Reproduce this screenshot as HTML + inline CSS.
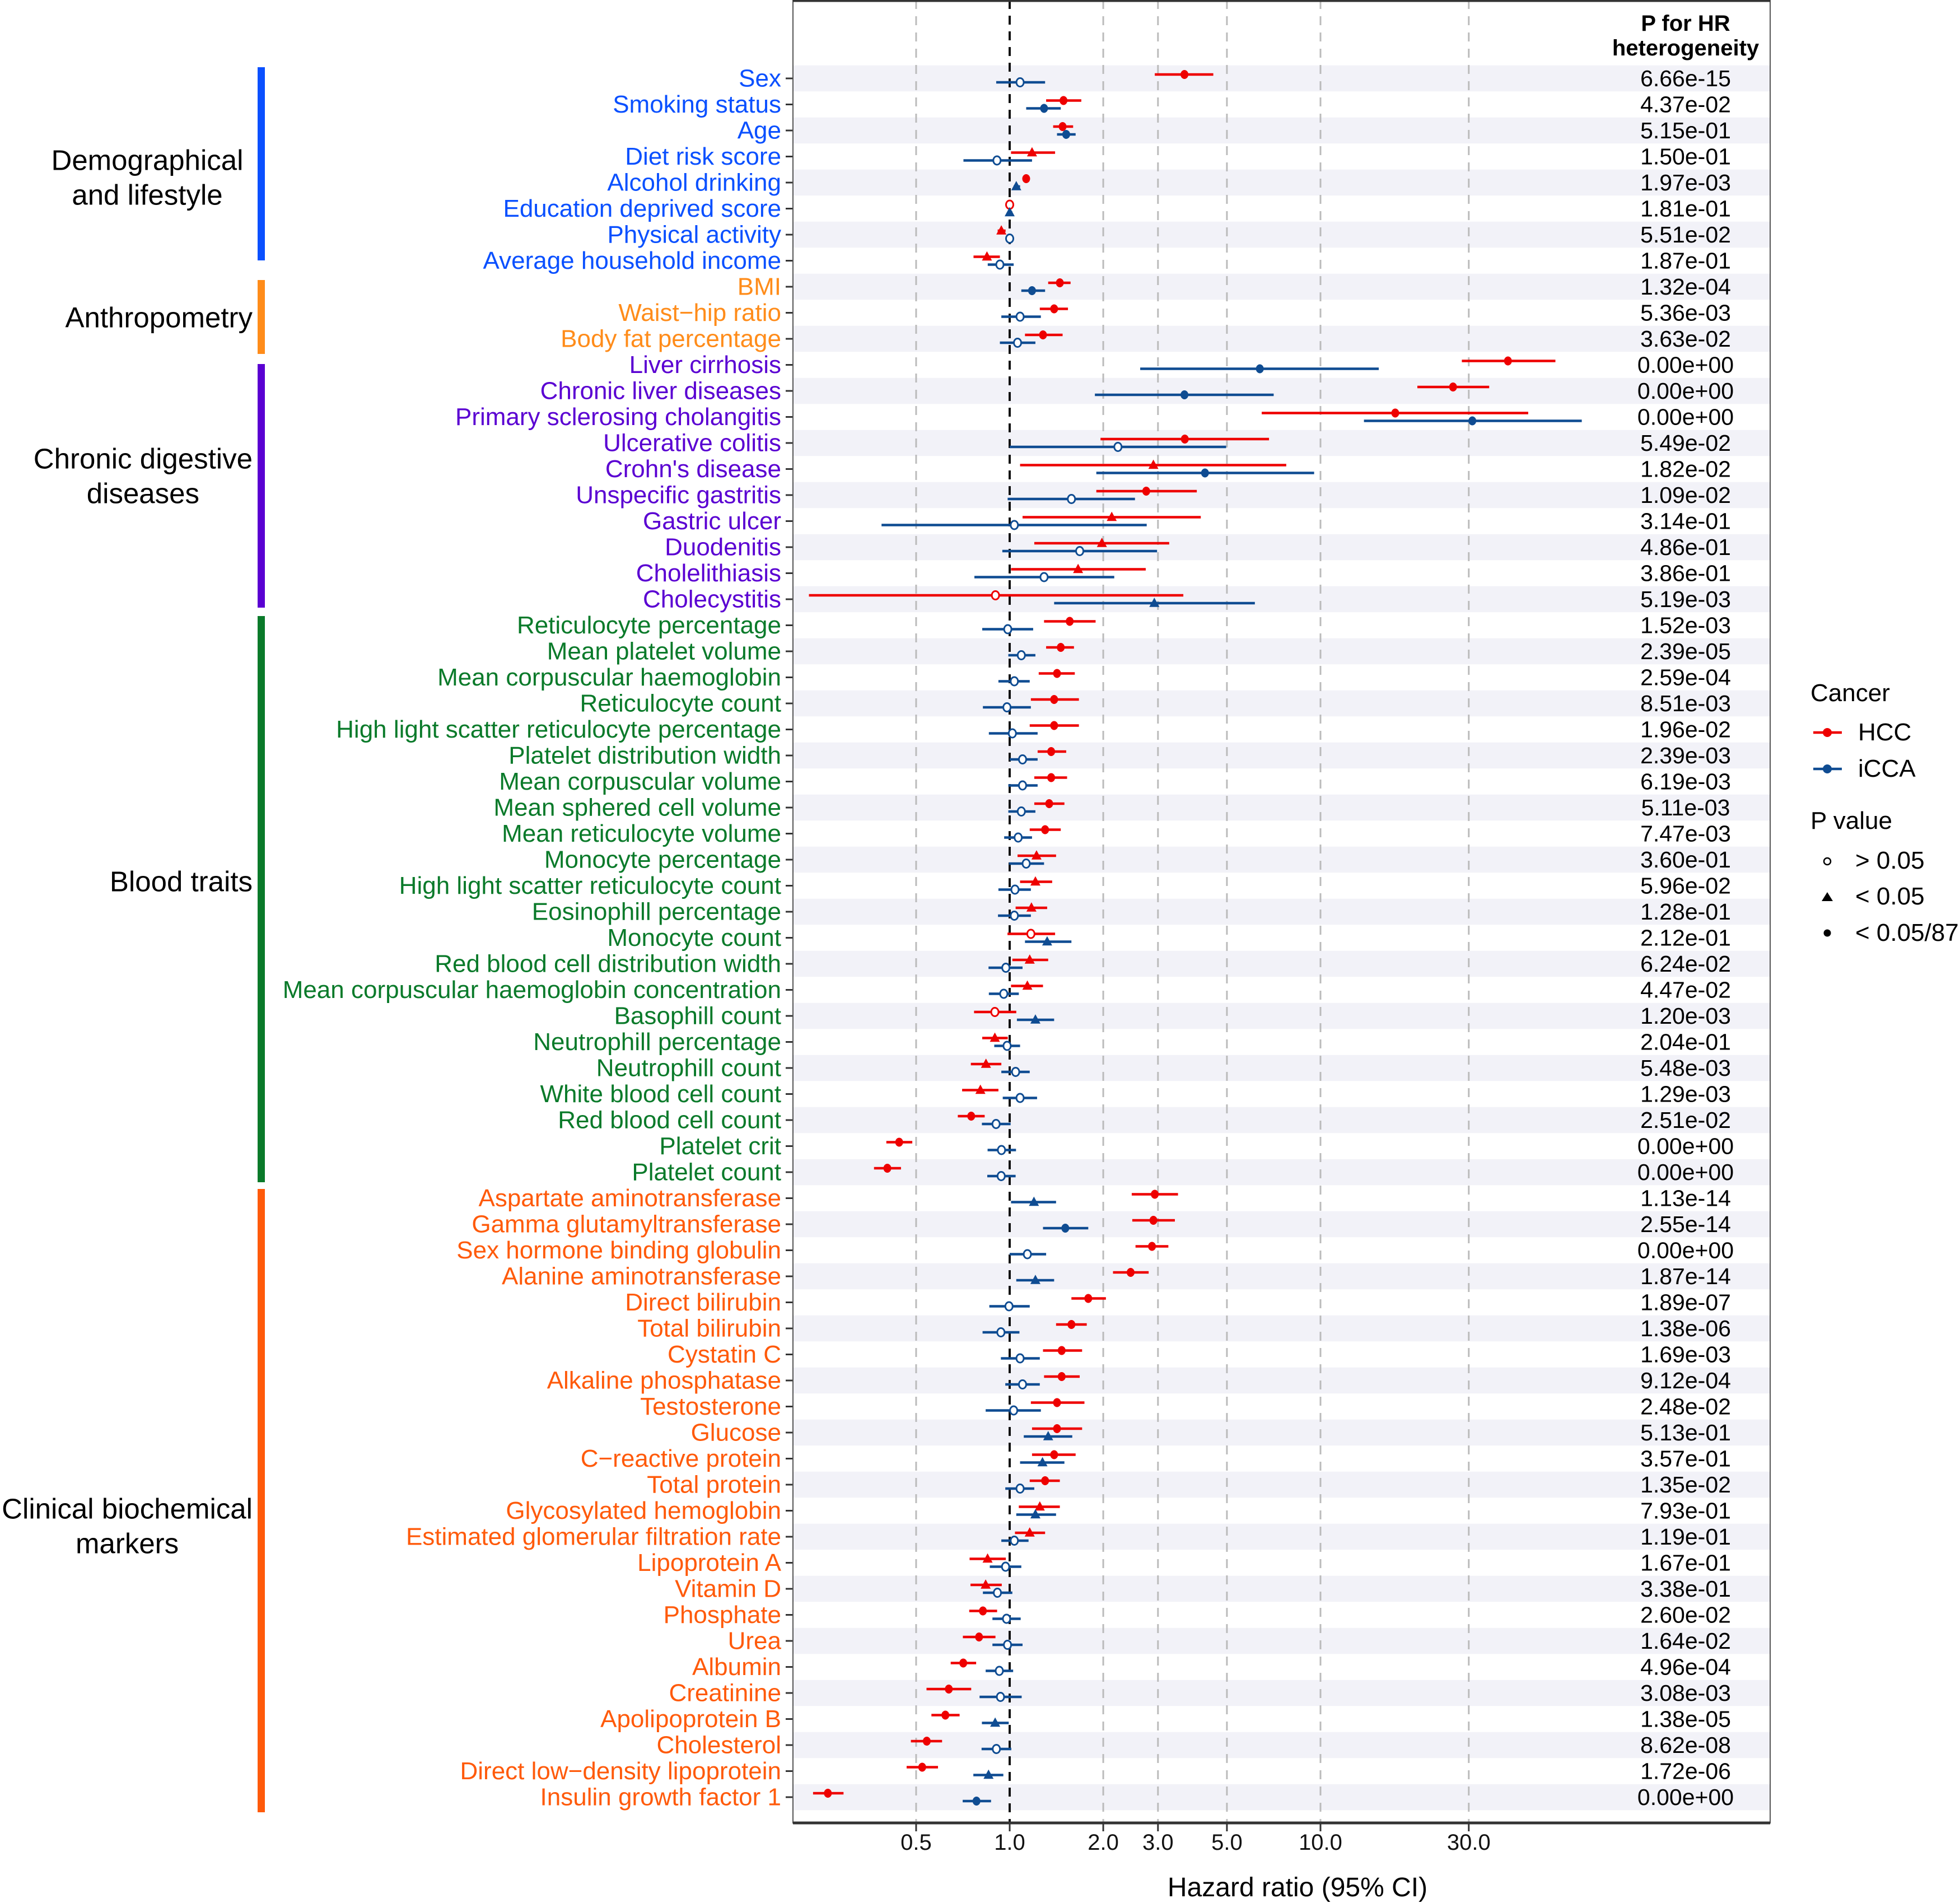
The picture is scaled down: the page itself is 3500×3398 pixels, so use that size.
<!DOCTYPE html>
<html><head><meta charset="utf-8"><style>
html,body{margin:0;padding:0;background:#fff;}
svg{display:block;font-family:"Liberation Sans",Arial,sans-serif;}
</style></head><body>
<svg id="chart" width="3500" height="3398" viewBox="0 0 3500 3398" xmlns="http://www.w3.org/2000/svg">
<g id="bands"></g><g id="grid"></g><g id="marks"></g><g id="labels"></g><g id="groups"></g><g id="axis"></g><g id="legend"></g>
</svg>
<script>
const labels=["Sex","Smoking status","Age","Diet risk score","Alcohol drinking","Education deprived score","Physical activity","Average household income","BMI","Waist\u2212hip ratio","Body fat percentage","Liver cirrhosis","Chronic liver diseases","Primary sclerosing cholangitis","Ulcerative colitis","Crohn's disease","Unspecific gastritis","Gastric ulcer","Duodenitis","Cholelithiasis","Cholecystitis","Reticulocyte percentage","Mean platelet volume","Mean corpuscular haemoglobin","Reticulocyte count","High light scatter reticulocyte percentage","Platelet distribution width","Mean corpuscular volume","Mean sphered cell volume","Mean reticulocyte volume","Monocyte percentage","High light scatter reticulocyte count","Eosinophill percentage","Monocyte count","Red blood cell distribution width","Mean corpuscular haemoglobin concentration","Basophill count","Neutrophill percentage","Neutrophill count","White blood cell count","Red blood cell count","Platelet crit","Platelet count","Aspartate aminotransferase","Gamma glutamyltransferase","Sex hormone binding globulin","Alanine aminotransferase","Direct bilirubin","Total bilirubin","Cystatin C","Alkaline phosphatase","Testosterone","Glucose","C\u2212reactive protein","Total protein","Glycosylated hemoglobin","Estimated glomerular filtration rate","Lipoprotein A","Vitamin D","Phosphate","Urea","Albumin","Creatinine","Apolipoprotein B","Cholesterol","Direct low\u2212density lipoprotein","Insulin growth factor 1"];
const groupIndex=[0,0,0,0,0,0,0,0,1,1,1,2,2,2,2,2,2,2,2,2,2,3,3,3,3,3,3,3,3,3,3,3,3,3,3,3,3,3,3,3,3,3,3,4,4,4,4,4,4,4,4,4,4,4,4,4,4,4,4,4,4,4,4,4,4,4,4];
const groupNames=[["Demographical","and lifestyle"],["Anthropometry"],["Chronic digestive","diseases"],["Blood traits"],["Clinical biochemical","markers"]];
const hccEst=[3.65,1.49,1.48,1.18,1.13,1.0,0.94,0.845,1.45,1.39,1.28,40.1,26.7,17.4,3.66,2.9,2.75,2.13,1.98,1.66,0.90,1.56,1.46,1.42,1.39,1.39,1.36,1.36,1.34,1.30,1.22,1.21,1.175,1.17,1.16,1.14,0.896,0.896,0.839,0.805,0.752,0.441,0.404,2.93,2.90,2.87,2.45,1.79,1.58,1.47,1.47,1.42,1.42,1.39,1.30,1.25,1.16,0.849,0.837,0.82,0.797,0.709,0.637,0.621,0.541,0.523,0.26];
const hccLo=[2.93,1.31,1.38,1.01,1.11,0.99,0.915,0.765,1.33,1.25,1.12,28.5,20.5,6.47,1.96,1.08,1.9,1.1,1.2,1.01,0.226,1.29,1.31,1.24,1.17,1.16,1.23,1.2,1.2,1.16,1.06,1.08,1.045,0.984,1.02,1.01,0.768,0.816,0.75,0.703,0.681,0.401,0.366,2.47,2.48,2.54,2.15,1.58,1.41,1.28,1.29,1.17,1.18,1.18,1.16,1.07,1.04,0.743,0.748,0.741,0.707,0.646,0.54,0.56,0.481,0.466,0.233];
const hccHi=[4.52,1.70,1.60,1.40,1.15,1.01,0.97,0.93,1.57,1.54,1.48,57,34.9,46.6,6.83,7.76,4.0,4.12,3.26,2.74,3.62,1.89,1.61,1.62,1.67,1.67,1.52,1.53,1.50,1.46,1.41,1.37,1.32,1.40,1.33,1.28,1.05,0.986,0.94,0.92,0.831,0.486,0.447,3.48,3.40,3.24,2.80,2.04,1.77,1.71,1.68,1.74,1.71,1.63,1.45,1.45,1.30,0.972,0.943,0.911,0.90,0.78,0.752,0.69,0.606,0.588,0.292];
const hccSig=[2,2,2,1,2,0,1,1,2,2,2,2,2,2,2,1,2,1,1,1,0,2,2,2,2,2,2,2,2,2,1,1,1,0,1,1,0,1,1,1,2,2,2,2,2,2,2,2,2,2,2,2,2,2,2,1,1,1,1,2,2,2,2,2,2,2,2];
const iccaEst=[1.08,1.29,1.52,0.91,1.05,1.0,1.0,0.93,1.18,1.08,1.06,6.38,3.65,30.8,2.23,4.25,1.58,1.035,1.68,1.29,2.92,0.986,1.09,1.035,0.98,1.02,1.10,1.10,1.09,1.065,1.13,1.04,1.035,1.32,0.972,0.957,1.21,0.981,1.045,1.08,0.904,0.941,0.939,1.197,1.51,1.14,1.21,0.995,0.937,1.08,1.10,1.03,1.33,1.275,1.08,1.21,1.035,0.97,0.913,0.977,0.984,0.926,0.934,0.898,0.906,0.855,0.782];
const iccaLo=[0.905,1.13,1.42,0.71,1.03,0.985,0.985,0.85,1.09,0.94,0.93,2.63,1.88,13.8,1.0,1.9,0.985,0.387,0.947,0.77,1.39,0.816,0.99,0.92,0.82,0.857,1.0,0.99,0.99,0.96,0.995,0.92,0.917,1.12,0.855,0.857,1.055,0.892,0.94,0.95,0.814,0.849,0.847,1.01,1.28,1.0,1.05,0.86,0.818,0.937,0.968,0.837,1.11,1.08,0.968,1.05,0.94,0.863,0.82,0.88,0.88,0.837,0.8,0.814,0.812,0.764,0.706];
const iccaHi=[1.30,1.46,1.63,1.18,1.08,1.02,1.015,1.03,1.30,1.26,1.21,15.4,7.07,69.3,4.97,9.54,2.53,2.76,2.98,2.17,6.15,1.19,1.21,1.16,1.17,1.23,1.23,1.23,1.21,1.18,1.29,1.17,1.17,1.58,1.10,1.07,1.39,1.08,1.16,1.225,1.007,1.048,1.045,1.41,1.79,1.31,1.39,1.16,1.075,1.25,1.25,1.26,1.59,1.50,1.2,1.41,1.15,1.09,1.02,1.085,1.10,1.026,1.093,0.993,1.012,0.954,0.871];
const iccaSig=[0,2,2,0,1,1,0,0,2,0,0,2,2,2,0,2,0,0,0,0,1,0,0,0,0,0,0,0,0,0,0,0,0,1,0,0,1,0,0,0,0,0,0,1,2,0,1,0,0,0,0,0,1,1,0,1,0,0,0,0,0,0,0,1,0,1,2];
const pHet=["6.66e-15","4.37e-02","5.15e-01","1.50e-01","1.97e-03","1.81e-01","5.51e-02","1.87e-01","1.32e-04","5.36e-03","3.63e-02","0.00e+00","0.00e+00","0.00e+00","5.49e-02","1.82e-02","1.09e-02","3.14e-01","4.86e-01","3.86e-01","5.19e-03","1.52e-03","2.39e-05","2.59e-04","8.51e-03","1.96e-02","2.39e-03","6.19e-03","5.11e-03","7.47e-03","3.60e-01","5.96e-02","1.28e-01","2.12e-01","6.24e-02","4.47e-02","1.20e-03","2.04e-01","5.48e-03","1.29e-03","2.51e-02","0.00e+00","0.00e+00","1.13e-14","2.55e-14","0.00e+00","1.87e-14","1.89e-07","1.38e-06","1.69e-03","9.12e-04","2.48e-02","5.13e-01","3.57e-01","1.35e-02","7.93e-01","1.19e-01","1.67e-01","3.38e-01","2.60e-02","1.64e-02","4.96e-04","3.08e-03","1.38e-05","8.62e-08","1.72e-06","0.00e+00"];
const xTicks=[0.5,1,2,3,5,10,30];
const xTickLabels=["0.5","1.0","2.0","3.0","5.0","10.0","30.0"];

const NS="http://www.w3.org/2000/svg";
const PL=1416,PR=3161,PT=0,PB=3255;
const groupColors=["#0A50FF","#FF8C1A","#5A00D2","#0A7A2A","#FF5A0A"];
const groupBars=[[120,465],[500,632],[650,1085],[1100,2111],[2123,3236]];
const groupLabelPos=[[263,317],[0,567],[0,850],[0,1574],[0,2725]];
const HCC="#EE0000",ICCA="#0F4C92";
function xs(v){return 1803+555*Math.log10(v);}
function ys(i){return 140+i*46.5;}
function mk(tag,attrs,parent){const e=document.createElementNS(NS,tag);for(const k in attrs)e.setAttribute(k,attrs[k]);parent.appendChild(e);return e;}
const gB=document.getElementById('bands'),gG=document.getElementById('grid'),gM=document.getElementById('marks'),gL=document.getElementById('labels'),gGr=document.getElementById('groups'),gA=document.getElementById('axis'),gLe=document.getElementById('legend');

labels.forEach((l,i)=>{
  if(i%2===0){const r=mk('rect',{x:PL,y:ys(i)-23.25,width:PR-PL,height:46.5,fill:'#F2F2F8'},gB);
    
    }
});
xTicks.forEach(t=>{
  const ln=mk('line',{x1:xs(t),x2:xs(t),y1:PT,y2:PB,stroke:t===1?'#111':'#BBBBBB','stroke-width':t===1?4:3,'stroke-dasharray':t===1?'16,12':'16,13'},gG);
  
  
});
function marker(x,y,sig,col,parent,scale){
  scale=scale||1;let e;
  if(sig===0){e=mk('ellipse',{cx:x,cy:y,rx:6.5*scale,ry:7.5*scale,fill:'#fff',stroke:col,'stroke-width':3},parent);}
  else if(sig===1){const s=9*scale;e=mk('polygon',{points:`${x},${y-s*1.1} ${x-s},${y+s*0.75} ${x+s},${y+s*0.75}`,fill:col},parent);}
  else{e=mk('ellipse',{cx:x,cy:y,rx:7*scale,ry:8*scale,fill:col},parent);}
  return e;
}
labels.forEach((l,i)=>{
  const y=ys(i);
  const hl=mk('line',{x1:xs(hccLo[i]),x2:xs(hccHi[i]),y1:y-7,y2:y-7,stroke:HCC,'stroke-width':4.5},gM);
  
  
  const hm=marker(xs(hccEst[i]),y-7,hccSig[i],HCC,gM);
  
  
  const il=mk('line',{x1:xs(iccaLo[i]),x2:xs(iccaHi[i]),y1:y+7,y2:y+7,stroke:ICCA,'stroke-width':4.5},gM);
  
  
  const im=marker(xs(iccaEst[i]),y+7,iccaSig[i],ICCA,gM);
  
  
  const t=mk('text',{x:1395,y:y,'font-size':44,'text-anchor':'end','dominant-baseline':'central',fill:groupColors[groupIndex[i]]},gL);
  t.textContent=l;
  
  
  const tk=mk('line',{x1:1403,x2:1416,y1:y,y2:y,stroke:'#333','stroke-width':3},gL);
  
  
  const p=mk('text',{x:3010,y:y,'font-size':41,'text-anchor':'middle','dominant-baseline':'central',fill:'#000'},gL);
  p.textContent=pHet[i];
  
  
});
const bd=mk('rect',{x:PL,y:1,width:PR-PL,height:PB-1,fill:'none',stroke:'#555','stroke-width':2},gA);


const tb=mk('line',{x1:PL,x2:PR,y1:1.5,y2:1.5,stroke:'#333','stroke-width':4},gA);


const xa=mk('line',{x1:PL,x2:PR,y1:PB,y2:PB,stroke:'#333','stroke-width':5},gA);


xTicks.forEach((t,k)=>{
  const tk=mk('line',{x1:xs(t),x2:xs(t),y1:PB,y2:PB+15,stroke:'#333','stroke-width':3},gA);
  
  
  const tl=mk('text',{x:xs(t),y:3303,'font-size':40,'text-anchor':'middle',fill:'#111'},gA);
  tl.textContent=xTickLabels[k];
  
  
});
const xt=mk('text',{x:2317,y:3386,'font-size':48,'text-anchor':'middle',fill:'#000'},gA);
xt.textContent='Hazard ratio (95% CI)';


const h1=mk('text',{x:3010,y:55,'font-size':40,'font-weight':'bold','text-anchor':'middle'},gA);
h1.textContent='P for HR';


const h2=mk('text',{x:3010,y:99,'font-size':40,'font-weight':'bold','text-anchor':'middle'},gA);
h2.textContent='heterogeneity';


groupNames.forEach((lines,g)=>{
  const [a,b]=groupBars[g];
  const bar=mk('rect',{x:460,y:a,width:13,height:b-a,fill:groupColors[g]},gGr);
  
  
  const cy=groupLabelPos[g][1];
  const els=lines.map((ln,k)=>{const t=mk('text',{x:0,y:cy+(k-(lines.length-1)/2)*62,'font-size':51,'text-anchor':'middle','dominant-baseline':'central',fill:'#000'},gGr);t.textContent=ln;
    
    
    return t;});
  let w=0;els.forEach(e=>{w=Math.max(w,e.getComputedTextLength());});
  const cx=groupLabelPos[g][0]||(451-w/2);
  els.forEach(e=>e.setAttribute('x',cx));
});
function lt(x,y,s,fs,name){const t=mk('text',{x:x,y:y,'font-size':fs,fill:'#000'},gLe);t.textContent=s;
  
  return t;}
lt(3233,1252,'Cancer',44,'legend-title-cancer');
[[HCC,1308,1322,'HCC'],[ICCA,1373,1387,'iCCA']].forEach(([c,y,by,s])=>{
  const l=mk('line',{x1:3238,x2:3289,y1:y,y2:y,stroke:c,'stroke-width':4.5},gLe);
  
  
  const m=mk('circle',{cx:3263,cy:y,r:8,fill:c},gLe);
  
  
  lt(3318,by,s,44,'legend-entry-label');
});
lt(3233,1480,'P value',44,'legend-title-pvalue');
[[0,1538,1551,'> 0.05'],[1,1602,1615,'< 0.05'],[2,1666,1680,'< 0.05/87']].forEach(([s,y,by,txt])=>{
  let m;
  if(s===0)m=mk('circle',{cx:3263,cy:y,r:6,fill:'#fff',stroke:'#000','stroke-width':2.5},gLe);
  else if(s===1)m=mk('polygon',{points:`3263,${y-9} 3253,${y+7} 3273,${y+7}`,fill:'#000'},gLe);
  else m=mk('circle',{cx:3263,cy:y,r:6.5,fill:'#000'},gLe);
  
  
  lt(3313,by,txt,44,'legend-shape-label');
});
</script>
</body></html>
